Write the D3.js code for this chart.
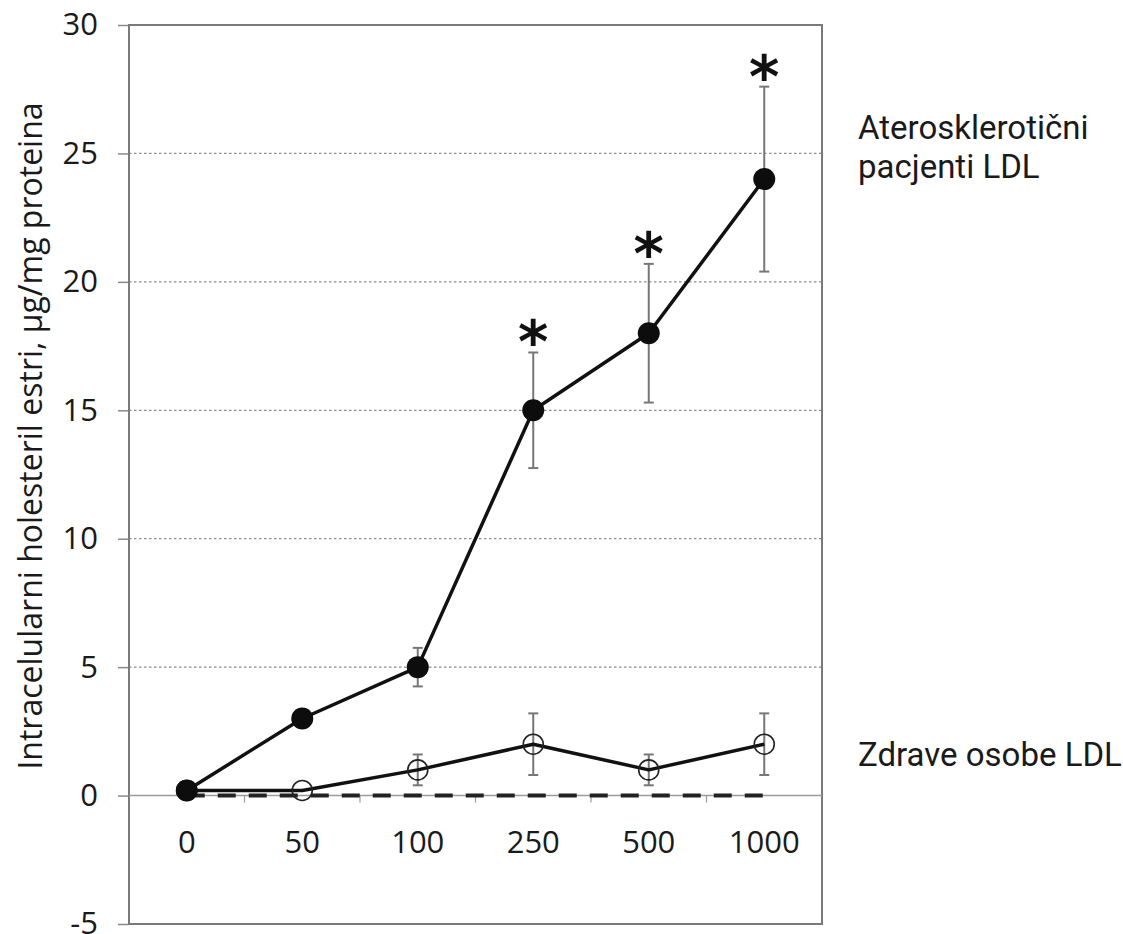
<!DOCTYPE html>
<html>
<head>
<meta charset="utf-8">
<script src="https://cdn.jsdelivr.net/npm/d3@7"></script>
<style>
  html, body { margin: 0; padding: 0; background: #fff; }
  svg { display: block; }
</style>
</head>
<body>
<svg id="chart" width="1123" height="934"></svg>
<script>
// LDL concentration groups (x axis categories)
const doses = ["0", "50", "100", "250", "500", "1000"];

// Atherosclerotic patients' LDL: means and error half-widths
const atheroMean = [0.2, 3.0, 5.0, 15.0, 18.0, 24.0];
const atheroErr  = [0, 0.3, 0.75, 2.25, 2.7, 3.6];
const atheroSig  = [false, false, false, true, true, true];

// Healthy subjects' LDL: means and error half-widths
const healthyMean = [0.2, 0.2, 1.0, 2.0, 1.0, 2.0];
const healthyErr  = [0, 0, 0.6, 1.2, 0.6, 1.2];

// Baseline (dashed) reference series
const baseline = [0, 0, 0, 0, 0, 0];

const yTicks = [-5, 0, 5, 10, 15, 20, 25, 30];
const gridValues = [5, 10, 15, 20, 25];

const yTitle = "Intracelularni holesteril estri, \u00b5g/mg proteina";
const atheroLabel = ["Ateroskleroti\u010dni", "pacjenti LDL"];
const healthyLabel = "Zdrave osobe LDL";

const svg = d3.select("#chart");
const plot = { left: 129, right: 822, top: 25, bottom: 924 };

const x = d3.scalePoint().domain(doses).range([plot.left, plot.right]).padding(0.5);
const band = d3.scaleBand().domain(doses).range([plot.left, plot.right]);
const y = d3.scaleLinear().domain([-5, 30]).range([plot.bottom, plot.top]);

const tickFont = "'Open Sans', sans-serif";
const labelFont = "Roboto, sans-serif";

// Dotted horizontal gridlines
svg.append("g").selectAll("line").data(gridValues).join("line")
  .attr("x1", plot.left).attr("x2", plot.right)
  .attr("y1", d => y(d)).attr("y2", d => y(d))
  .attr("stroke", "#8c8c8c").attr("stroke-width", 1.2)
  .attr("stroke-dasharray", "2.5,2.5");

// Y axis with outward ticks
const yAxis = d3.axisLeft(y).tickValues(yTicks).tickSize(11).tickPadding(20)
  .tickFormat(d => String(d));
const gy = svg.append("g").attr("transform", `translate(${plot.left},0)`).call(yAxis);
gy.select(".domain").remove();
gy.selectAll(".tick line").attr("stroke", "#8a8a8a").attr("stroke-width", 1.5);
gy.selectAll(".tick text").attr("font-family", tickFont).attr("font-size", 31)
  .attr("fill", "#1a1a1a");

// Plot frame
svg.append("rect")
  .attr("x", plot.left).attr("y", plot.top)
  .attr("width", plot.right - plot.left).attr("height", plot.bottom - plot.top)
  .attr("fill", "none").attr("stroke", "#7a7a7a").attr("stroke-width", 2);

// Horizontal axis at zero with tick marks between categories
svg.append("line")
  .attr("x1", plot.left).attr("x2", plot.right)
  .attr("y1", y(0)).attr("y2", y(0))
  .attr("stroke", "#9a9a9a").attr("stroke-width", 1.5);
svg.append("g").selectAll("line").data(doses.slice(1)).join("line")
  .attr("x1", d => band(d)).attr("x2", d => band(d))
  .attr("y1", y(0)).attr("y2", y(0) + 7)
  .attr("stroke", "#9a9a9a").attr("stroke-width", 1.2);

// Category labels
svg.append("g").selectAll("text").data(doses).join("text")
  .attr("x", d => x(d)).attr("y", y(0) + 57)
  .attr("text-anchor", "middle")
  .attr("font-family", tickFont).attr("font-size", 31).attr("fill", "#1a1a1a")
  .text(d => d);

// Y axis title
svg.append("text")
  .attr("transform", `translate(42,${436}) rotate(-90)`)
  .attr("text-anchor", "middle")
  .attr("font-family", tickFont).attr("font-size", 32).attr("fill", "#1a1a1a")
  .text(yTitle);

// Dashed baseline
const line = d3.line().x((d, i) => x(doses[i])).y(d => y(d));
svg.append("path").datum(baseline).attr("d", line)
  .attr("fill", "none").attr("stroke", "#222").attr("stroke-width", 4)
  .attr("stroke-dasharray", "18,13");

// Error bars
function errorBars(means, errs) {
  const data = means.map((m, i) => ({ c: doses[i], m, e: errs[i] })).filter(d => d.e > 0);
  const g = svg.append("g").attr("stroke", "#777").attr("stroke-width", 2);
  g.selectAll("line.v").data(data).join("line").attr("class", "v")
    .attr("x1", d => x(d.c)).attr("x2", d => x(d.c))
    .attr("y1", d => y(d.m - d.e)).attr("y2", d => y(d.m + d.e));
  g.selectAll("line.t").data(data).join("line").attr("class", "t")
    .attr("x1", d => x(d.c) - 5).attr("x2", d => x(d.c) + 5)
    .attr("y1", d => y(d.m + d.e)).attr("y2", d => y(d.m + d.e));
  g.selectAll("line.b").data(data).join("line").attr("class", "b")
    .attr("x1", d => x(d.c) - 5).attr("x2", d => x(d.c) + 5)
    .attr("y1", d => y(d.m - d.e)).attr("y2", d => y(d.m - d.e));
}
errorBars(healthyMean, healthyErr);
errorBars(atheroMean, atheroErr);

// Healthy series: line with open circles
svg.append("path").datum(healthyMean).attr("d", line)
  .attr("fill", "none").attr("stroke", "#111").attr("stroke-width", 3.5)
  .attr("stroke-linejoin", "round");
svg.append("g").selectAll("circle").data(healthyMean).join("circle")
  .attr("cx", (d, i) => x(doses[i])).attr("cy", d => y(d)).attr("r", 10)
  .attr("fill", "none").attr("stroke", "#222").attr("stroke-width", 1.6);

// Atherosclerotic series: line with filled circles
svg.append("path").datum(atheroMean).attr("d", line)
  .attr("fill", "none").attr("stroke", "#111").attr("stroke-width", 3.5)
  .attr("stroke-linejoin", "round");
svg.append("g").selectAll("circle").data(atheroMean).join("circle")
  .attr("cx", (d, i) => x(doses[i])).attr("cy", d => y(d)).attr("r", 11)
  .attr("fill", "#0d0d0d");

// Significance markers above the error bars
svg.append("g").selectAll("text")
  .data(atheroMean.map((m, i) => ({ c: doses[i], top: m + atheroErr[i], s: atheroSig[i] })).filter(d => d.s))
  .join("text")
  .attr("x", d => x(d.c)).attr("y", d => y(d.top) + 10)
  .attr("text-anchor", "middle")
  .attr("font-family", "'DejaVu Sans', sans-serif").attr("font-weight", "bold")
  .attr("font-size", 58).attr("fill", "#111")
  .text("*");

// Series labels on the right
const lab = svg.append("g").attr("font-family", labelFont).attr("font-size", 33).attr("fill", "#1a1a1a");
lab.append("text").attr("x", 858).attr("y", 139).text(atheroLabel[0]);
lab.append("text").attr("x", 858).attr("y", 178).text(atheroLabel[1]);
lab.append("text").attr("x", 858).attr("y", 766).text(healthyLabel);
</script>
</body>
</html>
